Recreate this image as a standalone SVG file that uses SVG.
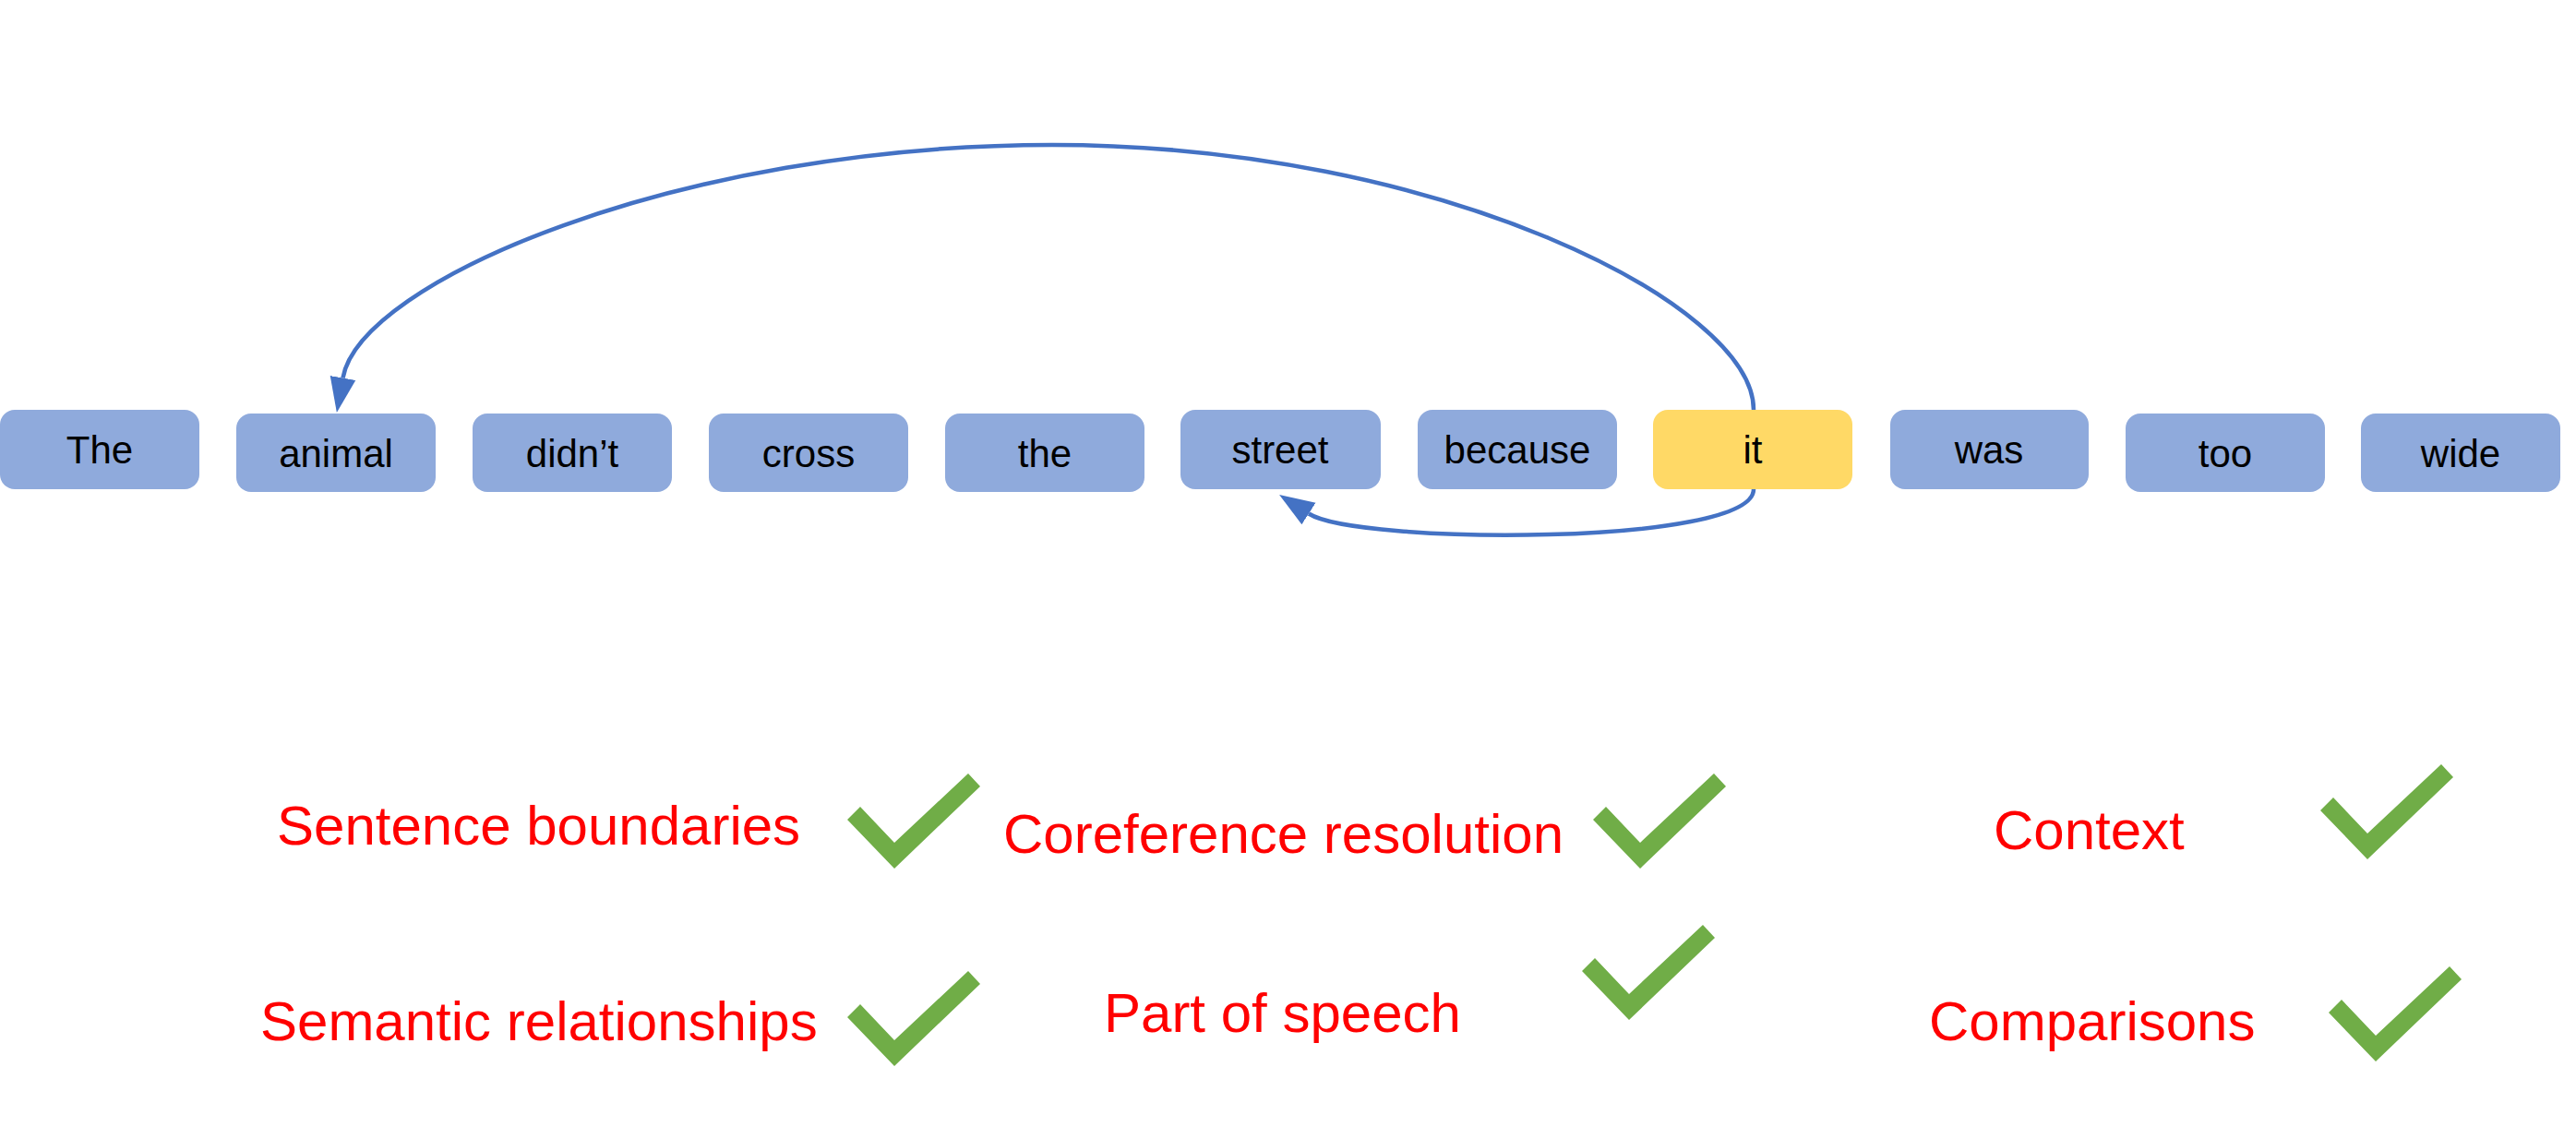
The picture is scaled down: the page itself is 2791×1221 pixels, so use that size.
<svg xmlns="http://www.w3.org/2000/svg" width="2791" height="1221" viewBox="0 0 2791 1221">
<style>
.box{fill:#8FAADC;}
.hl{fill:#FFD966;}
.w{font-family:"Liberation Sans",Arial,sans-serif;font-size:42px;fill:#000;text-anchor:middle;}
.lbl{font-family:"Liberation Sans",Arial,sans-serif;font-size:60px;fill:#FF0000;}
.chk{fill:#70AD47;}
.arc{fill:none;stroke:#4472C4;stroke-width:4.5;}
</style>
<defs>
<marker id="ah" markerUnits="userSpaceOnUse" markerWidth="40" markerHeight="32" viewBox="0 -16 40 32" refX="0" refY="0" orient="auto">
<path d="M0,-14 L38,0 L0,14 Z" fill="#4472C4"/>
</marker>
<path id="ck" d="M-51,-53 L-37,-67 L0,-28 L80,-103 L93,-89 L0,0 Z"/>
</defs>
<rect width="2791" height="1221" fill="#fff"/>
<g id="n-the1"><rect class="box" x="0" y="444" width="216" height="86" rx="16"/><text class="w" x="108" y="502">The</text></g>
<g id="n-animal"><rect class="box" x="256" y="448" width="216" height="85" rx="16"/><text class="w" x="364" y="506">animal</text></g>
<g id="n-didnt"><rect class="box" x="512" y="448" width="216" height="85" rx="16"/><text class="w" x="620" y="506">didn’t</text></g>
<g id="n-cross"><rect class="box" x="768" y="448" width="216" height="85" rx="16"/><text class="w" x="876" y="506">cross</text></g>
<g id="n-the2"><rect class="box" x="1024" y="448" width="216" height="85" rx="16"/><text class="w" x="1132" y="506">the</text></g>
<g id="n-street"><rect class="box" x="1279" y="444" width="217" height="86" rx="16"/><text class="w" x="1387" y="502">street</text></g>
<g id="n-because"><rect class="box" x="1536" y="444" width="216" height="86" rx="16"/><text class="w" x="1644" y="502">because</text></g>
<g id="n-it"><rect class="hl" x="1791" y="444" width="216" height="86" rx="16"/><text class="w" x="1899" y="502">it</text></g>
<g id="n-was"><rect class="box" x="2048" y="444" width="215" height="86" rx="16"/><text class="w" x="2155" y="502">was</text></g>
<g id="n-too"><rect class="box" x="2303" y="448" width="216" height="85" rx="16"/><text class="w" x="2411" y="506">too</text></g>
<g id="n-wide"><rect class="box" x="2558" y="448" width="216" height="85" rx="16"/><text class="w" x="2666" y="506">wide</text></g>
<g id="connectors">
<path class="arc" d="M1900,444 C1900,330 1560,157 1140,157 C735,157 390,305 371.5,409.5" marker-end="url(#ah)"/>
<path class="arc" d="M1900,530 C1900,592 1470,590 1418,556.5" marker-end="url(#ah)" stroke-width="6"/>
</g>
<g id="criteria">
<text class="lbl" x="300" y="915">Sentence boundaries</text>
<use href="#ck" class="chk" transform="translate(969,941)"/>
<text class="lbl" x="1087" y="924">Coreference resolution</text>
<use href="#ck" class="chk" transform="translate(1777,941)"/>
<text class="lbl" x="2160" y="920">Context</text>
<use href="#ck" class="chk" transform="translate(2565,931)"/>
<text class="lbl" x="282" y="1127">Semantic relationships</text>
<use href="#ck" class="chk" transform="translate(969,1155)"/>
<text class="lbl" x="1196" y="1118">Part of speech</text>
<use href="#ck" class="chk" transform="translate(1765,1105)"/>
<text class="lbl" x="2090" y="1127">Comparisons</text>
<use href="#ck" class="chk" transform="translate(2574,1150)"/>
</g>
</svg>
